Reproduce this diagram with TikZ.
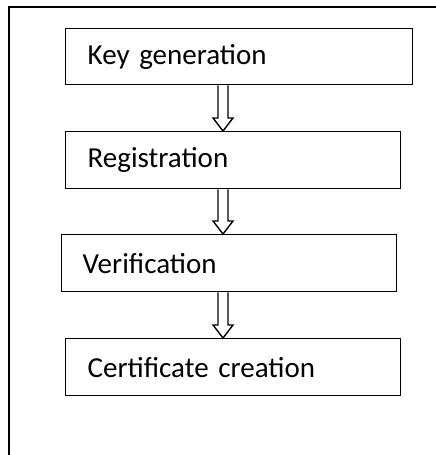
\documentclass[tikz,border=0pt]{standalone}
\usepackage{fontspec}
\setmainfont{Carlito}
\usetikzlibrary{calc}

\begin{document}
\begin{tikzpicture}[x=1pt, y=-1pt,
		stage/.style={draw, line width=1.4pt, anchor=north west, align=left, inner xsep=22pt, inner ysep=0pt, minimum height=57pt, font=\fontsize{29}{34}\selectfont},
		blk/.style={draw, line width=1.4pt, line join=miter}]
	\useasboundingbox (0,0) rectangle (436,455);
	\draw[line width=1.8pt] (9,455) -- (9,7) -- (436,7);
	\coordinate (axis) at (223,0);
	\node (keygen) at (65,28) [stage, minimum height=56pt, text width=303pt] {Key generation};
	\node (reg) at (65,131) [stage, text width=291pt] {Registration};
	\node (verif) at (61,234) [stage, inner xsep=21pt, text width=293pt] {Verification};
	\node (cert) at (65,338) [stage, text width=291pt] {Certificate creation};

	\foreach \a/\b in {keygen/reg, reg/verif, verif/cert}
		\draw[blk] ($(\a.south -| axis)+(-5,0)$) -- ($(\b.north -| axis)+(-5,-13)$) -- ($(\b.north -| axis)+(-10,-13)$) -- (\b.north -| axis) -- ($(\b.north -| axis)+(10,-13)$) -- ($(\b.north -| axis)+(5,-13)$) -- ($(\a.south -| axis)+(5,0)$);
\end{tikzpicture}
\end{document}
